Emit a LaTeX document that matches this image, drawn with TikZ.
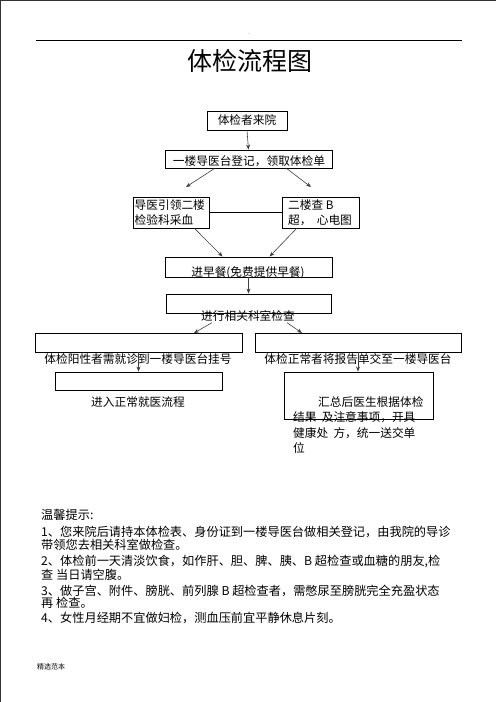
\documentclass[tikz,border=0pt]{standalone}
\usepackage{fontspec}
\setmainfont{Noto Sans CJK SC}
\usetikzlibrary{arrows.meta}
\begin{document}
\begin{tikzpicture}[x=1pt,y=-1pt,
  box/.style={draw=black,line width=0.9pt,rectangle,inner sep=0pt},
  txt/.style={inner sep=0pt,font=\fontsize{11.7}{15.3}\selectfont},
  note/.style={inner sep=0pt,anchor=west,font=\fontsize{12.2}{15}\selectfont},
  arr/.style={draw=black!75,line width=0.6pt,-{Stealth[length=5pt,width=4pt]}}]
\useasboundingbox (0,0) rectangle (496,702);
\fill[white] (0,0) rectangle (496,702);
\draw[black!80,line width=1.3pt] (0,702) -- (0,0.6) -- (496,0.6);
% header
\draw[line width=0.9pt] (36,40) coordinate (hl) -- (462,40) coordinate (hr);
\node[inner sep=0pt,font=\tiny] (dot) at (249,34.5) {.};
\node[inner sep=0pt,font=\fontsize{25}{29}\selectfont] (title) at (250,61) {体检流程图};
% boxes
\node[box,minimum width=80,minimum height=19,txt] (b1) at (247,120.5) {体检者来院};
\node[box,minimum width=167,minimum height=18] (b2) at (248.5,159) {};
\node[txt] (t2) at (249,161) {一楼导医台登记，领取体检单};
\node[box,minimum width=76,minimum height=31] (b3) at (171,212.5) {};
\node[txt,align=left,anchor=west] (t3) at (134.5,212.5) {导医引领二楼\\检验科采血};
\node[box,minimum width=77,minimum height=31] (b4) at (320.5,212.5) {};
\node[txt,align=left,anchor=west] (t4) at (288,212.5) {二楼查 B\\超，\ \ 心电图};
\node[box,minimum width=167,minimum height=20] (b5) at (248.5,267) {};
\node[txt] (t5) at (248,273) {进早餐(免费提供早餐)};
\node[box,minimum width=165,minimum height=19] (b6) at (248.5,303.5) {};
\node[txt] (t6) at (248,316) {进行相关科室检查};
\node[box,minimum width=207,minimum height=19] (b7) at (138.5,342.5) {};
\node[txt] (t7) at (138,359) {体检阳性者需就诊到一楼导医台挂号};
\node[box,minimum width=206,minimum height=19] (b8) at (358,342.5) {};
\node[txt] (t8) at (358,359) {体检正常者将报告单交至一楼导医台};
\node[box,minimum width=167,minimum height=18] (b9) at (138.5,381) {};
\node[txt] (t9) at (138,402) {进入正常就医流程};
\node[box,minimum width=149,minimum height=47] (b10) at (358.5,395.5) {};
\node[txt,align=left,anchor=north west] (t10) at (293,396.5) {\hspace*{25pt}汇总后医生根据体检\\结果\ \ 及注意事项，开具\\健康处\ \ 方，统一送交单\\位};
% connectors
\coordinate (c23l) at (186,187);
\coordinate (c23r) at (311,187);
\coordinate (c67l) at (194,333);
\coordinate (c67r) at (302,333);
\draw[arr] (b1.south) -- (b2.north);
\draw[arr] ([xshift=50]b2.south west) -- (c23l);
\draw[arr] ([xshift=122]b2.south west) -- (c23r);
\draw[line width=0.9pt] (b3.east) -- (b4.west);
\draw[arr] ([xshift=62]b3.south west) -- ([xshift=58]b5.north west);
\draw[arr] ([xshift=15]b4.south west) -- ([xshift=105]b5.north west);
\draw[arr] (b5.south) -- (b6.north);
\draw[arr] ([xshift=-36,yshift=-1]t6.south) -- (c67l);
\draw[arr] ([xshift=39,yshift=-1]t6.south) -- (c67r);
\draw[arr] (b7.south) -- (b9.north);
\draw[arr] (b8.south) -- (b8.south |- b10.north);
% notes
\node[note] (n0) at (41,515) {温馨提示:};
\node[note] (n1) at (41,531.7) {1、您来院后请持本体检表、身份证到一楼导医台做相关登记，由我院的导诊};
\node[note] (n2) at (41,545) {带领您去相关科室做检查。};
\node[note] (n3) at (41,561.7) {2、体检前一天清淡饮食，如作肝、胆、脾、胰、B 超检查或血糖的朋友,检};
\node[note] (n4) at (41,575) {查 当日请空腹。};
\node[note] (n5) at (41,590.7) {3、做子宫、附件、膀胱、前列腺 B 超检查者，需憋尿至膀胱完全充盈状态};
\node[note] (n6) at (41,603.3) {再 检查。};
\node[note] (n7) at (41,618.3) {4、女性月经期不宜做妇检，测血压前宜平静休息片刻。};
% footer
\node[inner sep=0pt,anchor=west,font=\fontsize{7}{8}\selectfont] (foot) at (37,667) {精选范本};
\end{tikzpicture}
\end{document}
